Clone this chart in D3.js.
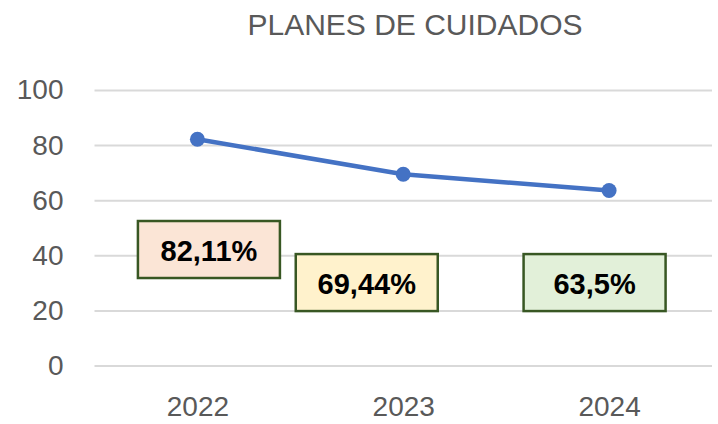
<!DOCTYPE html>
<html>
<head>
<meta charset="utf-8">
<script src="https://cdn.jsdelivr.net/npm/d3@7"></script>
<style>
  body { margin: 0; background: #fff; }
  svg { display: block; font-family: "Liberation Sans", Arial, sans-serif; }
</style>
</head>
<body>
<div id="chart"></div>
<script>
// data
var years = ["2022", "2023", "2024"];
var values = [82.11, 69.44, 63.5];
var labels = ["82,11%", "69,44%", "63,5%"];
var labelFills = ["#FBE5D6", "#FFF2CC", "#E2F0D9"];
var yTicks = [0, 20, 40, 60, 80, 100];

var width = 718;
var height = 424;
// plot area (note: "top" is taken by window.top, so use other names)
var plotLeft = 94.5, plotRight = 712, plotTop = 90, plotBottom = 365.5;

// label boxes were dragged around by hand in the original, so keep their offsets here
var labelDx = [11.5, -36.5, -14.5];
var labelAt = [42.1, 30.1, 30.1];
var boxW = 142, boxH = 57;

var svg = d3.select("#chart")
    .append("svg")
    .attr("width", width)
    .attr("height", height);

var x = d3.scalePoint()
    .domain(years)
    .range([plotLeft, plotRight])
    .padding(0.5);

var y = d3.scaleLinear()
    .domain([0, 100])
    .range([plotBottom, plotTop]);

svg.append("text")
    .attr("x", 415)
    .attr("y", 35)
    .attr("text-anchor", "middle")
    .style("font-size", "30px")
    .style("fill", "#595959")
    .text("PLANES DE CUIDADOS");

// gridlines + y labels
var yAxis = svg.append("g")
    .attr("transform", "translate(" + plotLeft + ",0)")
    .call(d3.axisLeft(y).tickValues(yTicks).tickSize(-(plotRight - plotLeft)).tickPadding(31));
yAxis.select(".domain").remove();
yAxis.selectAll(".tick line").attr("stroke", "#D9D9D9").attr("stroke-width", 2);
yAxis.selectAll(".tick text")
    .attr("fill", "#595959")
    .style("font-size", "28px")
    .style("font-family", "Liberation Sans, Arial, sans-serif");

// x labels
var xAxis = svg.append("g")
    .attr("transform", "translate(0," + plotBottom + ")")
    .call(d3.axisBottom(x).tickSize(0).tickPadding(31));
xAxis.select(".domain").remove();
xAxis.selectAll(".tick text")
    .attr("fill", "#595959")
    .style("font-size", "28px")
    .style("font-family", "Liberation Sans, Arial, sans-serif");

var line = d3.line()
    .x(function (d, i) { return x(years[i]); })
    .y(function (d) { return y(d); });

svg.append("path")
    .datum(values)
    .attr("d", line)
    .attr("fill", "none")
    .attr("stroke", "#4472C4")
    .attr("stroke-width", 4.5)
    .attr("stroke-linejoin", "round");

svg.selectAll(".dot")
    .data(values)
    .enter().append("circle")
    .attr("class", "dot")
    .attr("cx", function (d, i) { return x(years[i]); })
    .attr("cy", function (d) { return y(d); })
    .attr("r", 7.5)
    .attr("fill", "#4472C4");

var lab = svg.selectAll(".lab")
    .data(labels)
    .enter().append("g")
    .attr("class", "lab")
    .attr("transform", function (d, i) {
        return "translate(" + (x(years[i]) + labelDx[i]) + "," + y(labelAt[i]) + ")";
    });

lab.append("rect")
    .attr("x", -boxW / 2)
    .attr("y", -boxH / 2)
    .attr("width", boxW)
    .attr("height", boxH)
    .attr("fill", function (d, i) { return labelFills[i]; })
    .attr("stroke", "#385723")
    .attr("stroke-width", 2.5);

lab.append("text")
    .attr("text-anchor", "middle")
    .attr("y", 11)
    .style("font-size", "29px")
    .style("font-weight", "bold")
    .style("fill", "#000")
    .text(function (d) { return d; });
</script>
</body>
</html>
